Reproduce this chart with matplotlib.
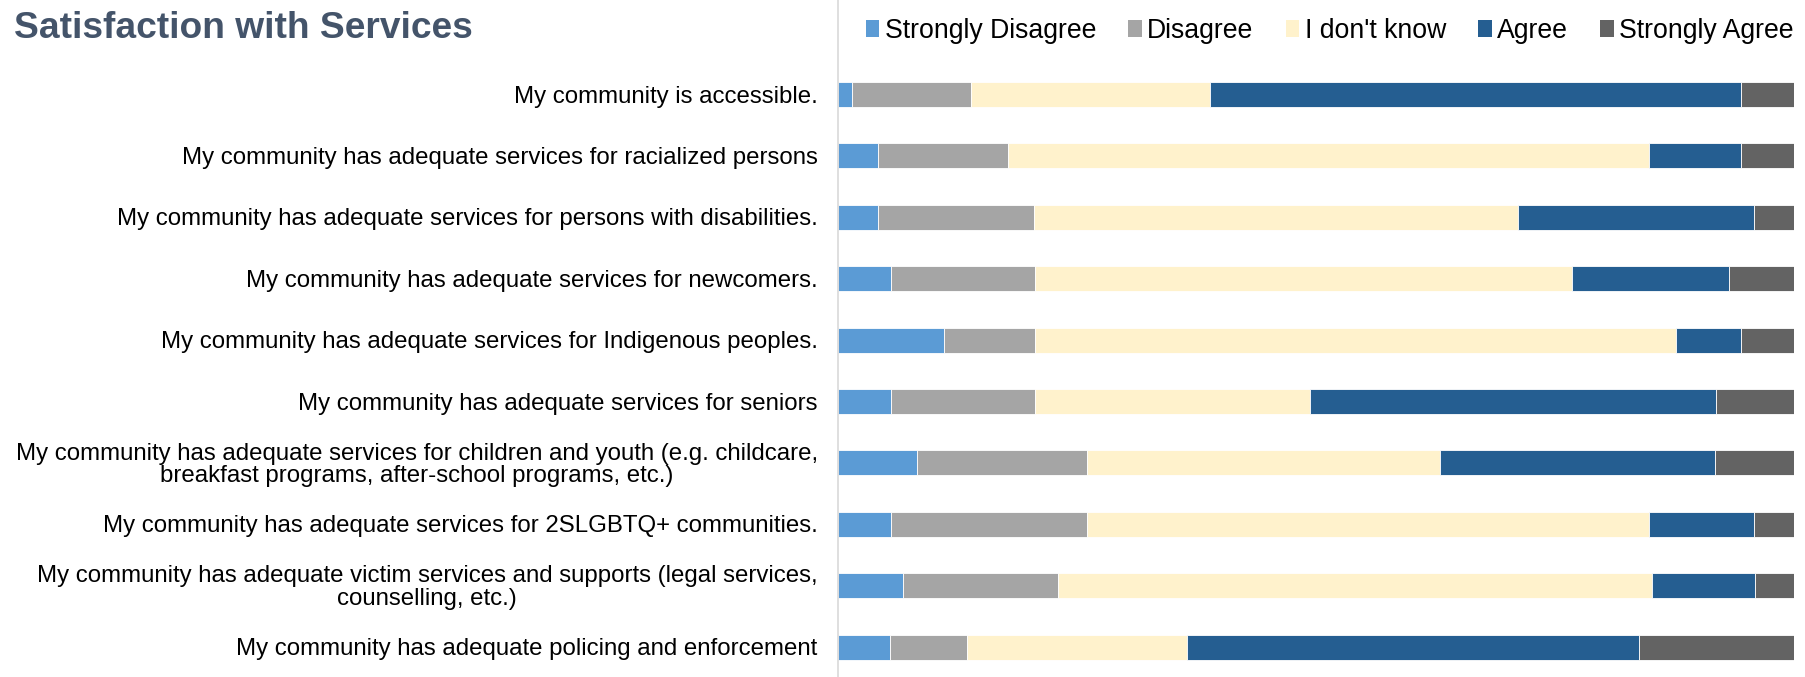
import numpy as np
import matplotlib.pyplot as plt
import matplotlib.transforms as mtransforms
from matplotlib.patches import Patch

plt.rcParams['font.family'] = ['Liberation Sans', 'DejaVu Sans']

statements = [
    "My community is accessible.",
    "My community has adequate services for racialized persons",
    "My community has adequate services for persons with disabilities.",
    "My community has adequate services for newcomers.",
    "My community has adequate services for Indigenous peoples.",
    "My community has adequate services for seniors",
    "My community has adequate services for children and youth (e.g. childcare,\nbreakfast programs, after-school programs, etc.)",
    "My community has adequate services for 2SLGBTQ+ communities.",
    "My community has adequate victim services and supports (legal services,\ncounselling, etc.)",
    "My community has adequate policing and enforcement",
]

responses = ["Strongly Disagree", "Disagree", "I don't know", "Agree", "Strongly Agree"]

# percent of respondents per statement
strongly_disagree = [1.4, 4.1, 4.1, 5.5, 11.0, 5.5, 8.2, 5.5, 6.8, 5.4]
disagree = [12.5, 13.7, 16.4, 15.1, 9.6, 15.1, 17.8, 20.5, 16.2, 8.1]
dont_know = [25.0, 67.1, 50.7, 56.2, 67.1, 28.8, 37.0, 58.9, 62.2, 23.0]
agree = [55.6, 9.6, 24.7, 16.4, 6.8, 42.5, 28.8, 11.0, 10.8, 47.3]
strongly_agree = [5.6, 5.5, 4.1, 6.8, 5.5, 8.2, 8.2, 4.1, 4.0, 16.2]

colors = ["#5B9BD5", "#A5A5A5", "#FFF2CC", "#255E91", "#636363"]

series = [strongly_disagree, disagree, dont_know, agree, strongly_agree]

fig = plt.figure(figsize=(18.06, 6.77), dpi=100)
W, H = 1806, 677
ax = fig.add_axes([838.5 / W, 0, (1794.5 - 838.5) / W, 1])

y = np.arange(len(statements))
left = np.zeros(len(statements))
for vals, c in zip(series, colors):
    vals = np.asarray(vals)
    ax.barh(y, vals, left=left, height=0.41, color=c, edgecolor="white", linewidth=0.6)
    left += vals

# row 0 sits 94.5 px from the top, rows 61.4 px apart
ax.set_ylim((H - 94.5) / 61.4, -94.5 / 61.4)
ax.set_xlim(0, left.max())

ax.set_yticks([])
ax.set_xticks([])
for s in ["top", "right", "bottom"]:
    ax.spines[s].set_visible(False)
ax.spines["left"].set_color("#D9D9D9")
ax.spines["left"].set_linewidth(1.2)

# category labels: right-aligned block, wrapped lines centred on each other
label_tf = mtransforms.offset_copy(
    mtransforms.blended_transform_factory(ax.transAxes, ax.transData),
    fig=fig, x=-15, y=-1.5, units="points")
for yi, s in zip(y, statements):
    ax.text(0, yi, s, transform=label_tf, fontsize=17.25, ha="right", va="center",
            multialignment="center", linespacing=1.05)

fig.text(14 / W, 1 - 28 / H, "Satisfaction with Services", fontsize=26.7, fontweight="bold",
         color="#44546A", ha="left", va="center")

handles = [Patch(facecolor=c, edgecolor="none") for c in colors]
fig.legend(handles, responses, loc="center", bbox_to_anchor=(1329.7 / W, 1 - 31 / H),
           ncol=5, frameon=False, fontsize=19.2, handlelength=0.52, handleheight=0.6,
           handletextpad=0.2, columnspacing=1.2, borderpad=0, borderaxespad=0)

fig.savefig("out.png", dpi=100)
